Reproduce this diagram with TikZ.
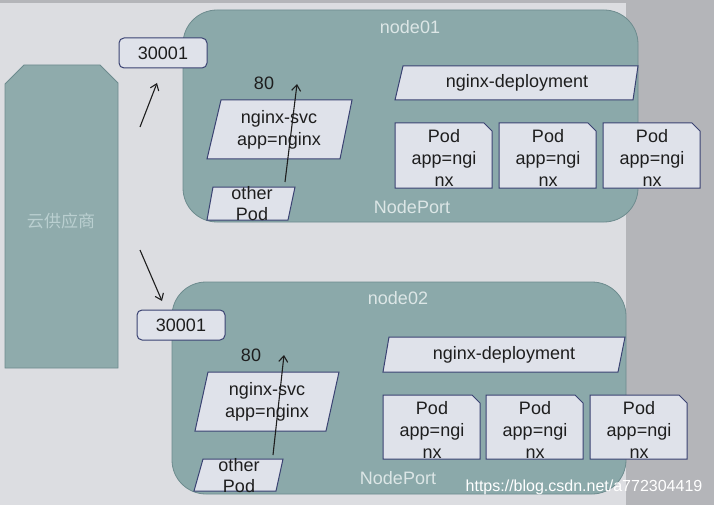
\documentclass[tikz,border=0pt]{standalone}
\usepackage{fontspec}
\setmainfont{Liberation Sans}
\newfontfamily\cjk{Noto Sans CJK SC}
\usetikzlibrary{arrows.meta}
\definecolor{bgl}{HTML}{DCDDE1}
\definecolor{bgd}{HTML}{B4B5B9}
\definecolor{teal1}{HTML}{8BA9AA}
\definecolor{tealc}{HTML}{8FABAC}
\definecolor{tealb}{HTML}{6D8B8E}
\definecolor{cloudtxt}{HTML}{BACFD0}
\definecolor{boxf}{HTML}{DFE2EA}
\definecolor{boxb}{HTML}{3A4272}
\definecolor{lbl}{HTML}{DCE6E6}
\definecolor{txt}{HTML}{1E1E1E}
\tikzset{
  nodearea/.style={fill=teal1, draw=tealb, line width=0.8pt},
  lightbox/.style={fill=boxf, draw=boxb, line width=1pt},
  tx/.style={font=\fontsize{18}{22}\selectfont, text=txt, align=center, inner sep=0pt},
  wt/.style={font=\fontsize{18}{22}\selectfont, text=lbl, inner sep=0pt},
  arr/.style={draw=txt, line width=1.1pt, -{Straight Barb[length=6pt,width=9pt]}},
}
\begin{document}
\begin{tikzpicture}[x=1pt,y=-1pt]
\useasboundingbox (0,0) rectangle (714,505);
% background
\fill[bgd] (0,0) rectangle (714,505);
\fill[bgl] (0,3) rectangle (626,505);

% cloud provider
\draw[fill=tealc, draw=tealb, line width=0.8pt] (24,65) -- (100,65) -- (118,83) -- (118,368) -- (5,368) -- (5,84) -- cycle;
\node[font=\cjk\fontsize{17}{20}\selectfont, text=cloudtxt, inner sep=0pt] (cloud) at (61,221) {云供应商};

% ================= node01 =================
\draw[nodearea, rounded corners=34pt] (183,10) rectangle (638,222);
\node[wt] (n1lbl) at (410,27) {node01};
\node[wt] (n1np) at (412,207) {NodePort};

\node[lightbox, rounded corners=5pt, minimum width=88pt, minimum height=30pt, tx] (p1) at (163,53) {30001};
\coordinate (a1s) at (140,127);
\coordinate (a1e) at (157,83);
\draw[arr] (a1s) -- (a1e);

\node[tx] (e1) at (264,83) {80};
\draw[lightbox] (221,100) -- (352,100) -- (340,159) -- (207,159) -- cycle;
\node[tx] (svc1) at (279,130) {nginx-svc\\app=nginx};
\draw[lightbox] (213,187) -- (295,187) -- (288,220) -- (207,220) -- cycle;
\node[tx, font=\fontsize{18}{21}\selectfont] (op1) at (252,204) {other\\Pod};
\coordinate (b1s) at (285,182);
\coordinate (b1e) at (297,84);
\draw[arr] (b1s) -- (b1e);

\draw[lightbox] (403,66) -- (638,66) -- (633,100) -- (395,100) -- cycle;
\node[tx] (dep1) at (517,83) {nginx-deployment};

\foreach \x/\n in {395/a,499/b,603/c}{
  \draw[lightbox] (\x,123) -- (\x+89,123) -- (\x+97,131) -- (\x+97,188) -- (\x,188) -- cycle;
  \node[tx] (pod1\n) at (\x+49,158) {Pod\\app=ngi\\nx};
}

% ================= node02 =================
\draw[nodearea, rounded corners=34pt] (172,282) rectangle (626,494);
\node[wt] (n2lbl) at (398,298) {node02};
\node[wt] (n2np) at (398,478) {NodePort};

\node[lightbox, rounded corners=5pt, minimum width=88pt, minimum height=30pt, tx] (p2) at (181,325) {30001};
\coordinate (a2s) at (140,250);
\coordinate (a2e) at (162,301);
\draw[arr] (a2s) -- (a2e);

\node[tx] (e2) at (251,355) {80};
\draw[lightbox] (208,372) -- (339,372) -- (326,431) -- (195,431) -- cycle;
\node[tx] (svc2) at (267,402) {nginx-svc\\app=nginx};
\draw[lightbox] (203,459) -- (283,459) -- (276,491) -- (194,491) -- cycle;
\node[tx, font=\fontsize{18}{21}\selectfont] (op2) at (239,476) {other\\Pod};
\coordinate (b2s) at (273,455);
\coordinate (b2e) at (284,355);
\draw[arr] (b2s) -- (b2e);

\draw[lightbox] (389,337) -- (625,337) -- (618,372) -- (383,372) -- cycle;
\node[tx] (dep2) at (504,355) {nginx-deployment};

\foreach \x/\n in {383/a,486/b,590/c}{
  \draw[lightbox] (\x,395) -- (\x+89,395) -- (\x+97,403) -- (\x+97,459) -- (\x,459) -- cycle;
  \node[tx] (pod2\n) at (\x+49,430) {Pod\\app=ngi\\nx};
}

% watermark
\node[font=\fontsize{16}{18}\selectfont, text=white, inner sep=0pt] (wm) at (584,487) {https://blog.csdn.net/a772304419};
\end{tikzpicture}
\end{document}
